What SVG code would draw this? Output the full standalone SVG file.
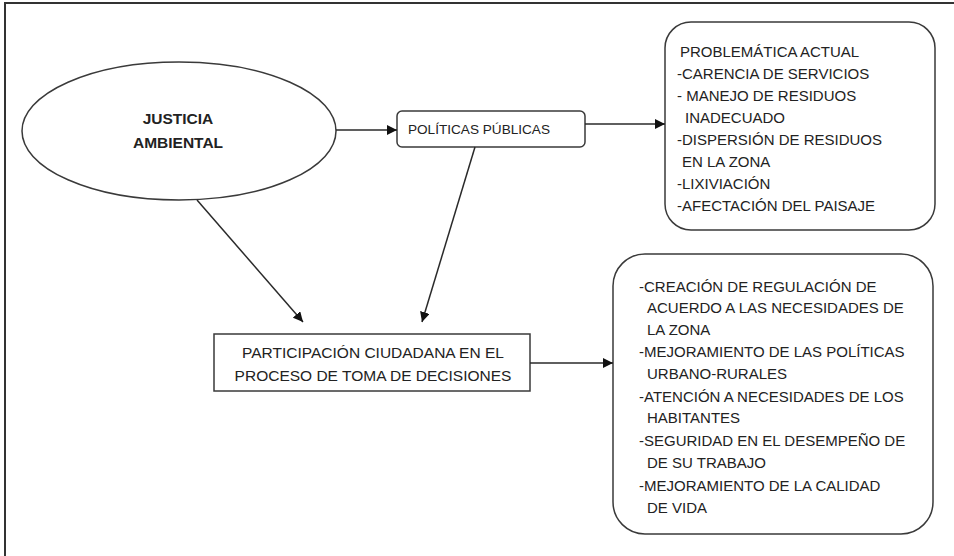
<svg xmlns="http://www.w3.org/2000/svg" width="954" height="556" viewBox="0 0 954 556">
<style>
.shape{fill:#fff;stroke:#3a3a3a;stroke-width:1.5}
.conn{stroke:#2a2a2a;stroke-width:1.5;fill:none;marker-end:url(#ah)}
text{font-family:"Liberation Sans",Arial,sans-serif;font-size:15px;fill:#222}
.b{font-weight:bold;font-size:15.5px}
.c{text-anchor:middle}
.p{font-size:13.6px}
.q{font-size:15.5px}
</style>
<defs>
<marker id="ah" viewBox="0 0 10 10" refX="10" refY="5" markerWidth="10" markerHeight="10" markerUnits="userSpaceOnUse" orient="auto">
<path d="M0,0 L10,5 L0,10 z" fill="#111"/>
</marker>
</defs>
<rect x="0" y="0" width="954" height="556" fill="#fff"/>
<path d="M5,556 V3 H954" fill="none" stroke="#333" stroke-width="2"/>
<g id="justicia">
<ellipse class="shape" cx="179" cy="131" rx="157" ry="69"/>
<text class="b c" x="178" y="124">JUSTICIA</text>
<text class="b c" x="178" y="148">AMBIENTAL</text>
</g>
<g id="politicas">
<rect class="shape" x="397" y="111" width="188" height="36" rx="5"/>
<text class="c p" x="479" y="134">POLÍTICAS PÚBLICAS</text>
</g>
<g id="problematica">
<rect class="shape" x="665" y="22" width="270" height="208" rx="26"/>
<text x="680" y="57">PROBLEMÁTICA  ACTUAL</text>
<text x="677" y="79">-CARENCIA DE SERVICIOS</text>
<text x="677" y="101">- MANEJO DE RESIDUOS</text>
<text x="685" y="123">INADECUADO</text>
<text x="677" y="145">-DISPERSIÓN DE RESIDUOS</text>
<text x="682" y="167">EN LA ZONA</text>
<text x="677" y="189">-LIXIVIACIÓN</text>
<text x="677" y="211">-AFECTACIÓN DEL PAISAJE</text>
</g>
<g id="participacion">
<rect class="shape" x="214" y="334" width="316" height="57"/>
<text class="c q" x="373" y="358">PARTICIPACIÓN CIUDADANA EN EL</text>
<text class="c q" x="373" y="381">PROCESO DE TOMA DE DECISIONES</text>
</g>
<g id="resultados">
<rect class="shape" x="613" y="254" width="320" height="280" rx="32"/>
<text x="639" y="292">-CREACIÓN DE REGULACIÓN DE</text>
<text x="647" y="313">ACUERDO A LAS NECESIDADES DE</text>
<text x="647" y="335">LA ZONA</text>
<text x="639" y="357">-MEJORAMIENTO DE LAS POLÍTICAS</text>
<text x="647" y="379">URBANO-RURALES</text>
<text x="639" y="402">-ATENCIÓN A NECESIDADES DE LOS</text>
<text x="647" y="423">HABITANTES</text>
<text x="639" y="446">-SEGURIDAD EN EL DESEMPEÑO DE</text>
<text x="647" y="468">DE SU TRABAJO</text>
<text x="639" y="491">-MEJORAMIENTO DE LA CALIDAD</text>
<text x="647" y="513">DE VIDA</text>
</g>
<g id="connectors">
<line class="conn" x1="336" y1="130" x2="397" y2="130"/>
<line class="conn" x1="585" y1="124" x2="665" y2="124"/>
<line class="conn" x1="197" y1="200" x2="303" y2="322"/>
<line class="conn" x1="475" y1="147" x2="422" y2="322"/>
<line class="conn" x1="530" y1="363" x2="613" y2="363"/>
</g>
</svg>
